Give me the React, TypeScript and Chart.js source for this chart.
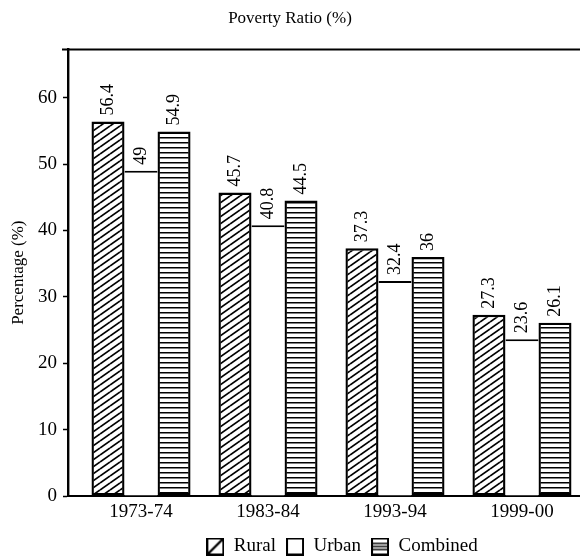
import { useEffect, useRef } from "react";
import { Chart, registerables } from "chart.js";

Chart.register(...registerables);

const categories = ["1973-74", "1983-84", "1993-94", "1999-00"];
const rural = [56.4, 45.7, 37.3, 27.3];
const urban = [49, 40.8, 32.4, 23.6];
const combined = [54.9, 44.5, 36, 26.1];
const seriesNames = ["Rural", "Urban", "Combined"];
const yTicks = [0, 10, 20, 30, 40, 50, 60];

const FONT = "'Liberation Serif', 'DejaVu Serif', serif";

function makeHatch(): CanvasPattern {
  const c = document.createElement("canvas");
  const w = 10;
  const h = 7;
  c.width = w;
  c.height = h;
  const g = c.getContext("2d")!;
  g.fillStyle = "#fff";
  g.fillRect(0, 0, w, h);
  g.strokeStyle = "#000";
  g.lineWidth = 1.7;
  for (const k of [-1, 0, 1]) {
    g.beginPath();
    g.moveTo(0, h + k * h);
    g.lineTo(w, k * h);
    g.stroke();
  }
  return g.createPattern(c, "repeat")!;
}

function makeHLines(): CanvasPattern {
  const c = document.createElement("canvas");
  c.width = 6;
  c.height = 5;
  const g = c.getContext("2d")!;
  g.fillStyle = "#fff";
  g.fillRect(0, 0, 6, 5);
  g.fillStyle = "#000";
  g.fillRect(0, 2, 6, 1.5);
  return g.createPattern(c, "repeat")!;
}

function makeIcon(kind: number): HTMLCanvasElement {
  const c = document.createElement("canvas");
  const s = 18;
  c.width = s;
  c.height = s;
  const g = c.getContext("2d")!;
  g.fillStyle = "#fff";
  g.fillRect(0, 0, s, s);
  g.strokeStyle = "#000";
  g.lineWidth = 2;
  g.strokeRect(1, 1, s - 2, s - 2);
  if (kind === 0) {
    g.lineWidth = 2.4;
    g.beginPath();
    g.moveTo(2, s - 2);
    g.lineTo(s - 2, 2);
    g.stroke();
  } else if (kind === 2) {
    g.lineWidth = 1.5;
    for (const y of [6, 9, 12]) {
      g.beginPath();
      g.moveTo(1, y);
      g.lineTo(s - 1, y);
      g.stroke();
    }
  }
  return c;
}

const topBorder = {
  id: "topBorder",
  afterDraw(chart: any) {
    const { ctx, chartArea } = chart;
    ctx.save();
    ctx.strokeStyle = "#000";
    ctx.lineWidth = 2;
    ctx.beginPath();
    ctx.moveTo(chartArea.left - 6, chartArea.top);
    ctx.lineTo(chartArea.right, chartArea.top);
    ctx.stroke();
    ctx.restore();
  },
};

const legendShift = {
  id: "legendShift",
  afterLayout(chart: any) {
    const lg = chart.legend;
    if (!lg) return;
    lg.left += 52;
    lg.right += 52;
    lg.top += 8;
    lg.bottom += 8;
  },
};

const valueLabels = {
  id: "valueLabels",
  afterDatasetsDraw(chart: any) {
    const ctx = chart.ctx;
    const all = [rural, urban, combined];
    ctx.save();
    ctx.font = `18px ${FONT}`;
    ctx.fillStyle = "#000";
    all.forEach((vals, di) => {
      const meta = chart.getDatasetMeta(di);
      meta.data.forEach((el: any, i: number) => {
        ctx.save();
        ctx.translate(el.x, el.y - 6);
        ctx.rotate(-Math.PI / 2);
        ctx.textAlign = "left";
        ctx.textBaseline = "middle";
        ctx.fillText(String(vals[i]), 0, 0);
        ctx.restore();
      });
    });
    ctx.restore();
  },
};

export default function App() {
  const ref = useRef<HTMLCanvasElement | null>(null);

  useEffect(() => {
    document.body.style.margin = "0";
    const canvas = ref.current;
    if (!canvas) return;
    const hatch = makeHatch();
    const hlines = makeHLines();
    const icons = [makeIcon(0), makeIcon(1), makeIcon(2)];

    const toPts = (vals: number[]) => vals.map((v, i) => ({ x: i, y: v }));

    const chart = new Chart(canvas, {
      type: "bar",
      data: {
        datasets: [
          {
            label: seriesNames[0],
            data: toPts(rural),
            backgroundColor: hatch,
            borderColor: "#000",
            borderWidth: 2.4,
            borderSkipped: false,
          },
          {
            label: seriesNames[1],
            data: toPts(urban),
            backgroundColor: "#fff",
            borderColor: "#000",
            borderWidth: { top: 2, left: 0, right: 0, bottom: 0 },
            borderSkipped: "start",
          },
          {
            label: seriesNames[2],
            data: toPts(combined),
            backgroundColor: hlines,
            borderColor: "#000",
            borderWidth: 2.4,
            borderSkipped: false,
          },
        ] as any,
      },
      options: {
        animation: false,
        responsive: false,
        layout: { padding: 0 },
        plugins: {
          title: {
            display: true,
            text: "Poverty Ratio (%)",
            color: "#000",
            font: { family: FONT, size: 17, weight: "normal" },
            padding: { top: 8, bottom: 21 },
          },
          legend: {
            position: "bottom",
            labels: {
              usePointStyle: true,
              boxWidth: 18,
              boxHeight: 18,
              padding: 10,
              color: "#000",
              font: { family: FONT, size: 19 },
              generateLabels: (ch: any) =>
                seriesNames.map((n, i) => ({
                  text: n,
                  datasetIndex: i,
                  pointStyle: icons[i],
                  fillStyle: "#fff",
                  strokeStyle: "#000",
                  lineWidth: 0,
                  hidden: !ch.isDatasetVisible(i),
                  fontColor: "#000",
                })),
            },
          },
          tooltip: { enabled: false },
        },
        scales: {
          x: {
            type: "linear",
            min: -0.575,
            max: 3.457,
            offset: false,
            afterBuildTicks: (s: any) => {
              s.ticks = categories.map((_, i) => ({ value: i }));
            },
            afterFit: (s: any) => {
              const lh = s.chart.legend ? s.chart.legend.height : 0;
              s.height = 62 - lh;
            },
            ticks: {
              color: "#000",
              font: { family: FONT, size: 19 },
              padding: 5,
              maxRotation: 0,
              callback: (v: any) => categories[Math.round(v)] ?? "",
            },
            grid: { drawOnChartArea: false, drawTicks: false },
            border: { display: true, color: "#000", width: 2 },
          },
          y: {
            min: 0,
            max: 67.27,
            afterBuildTicks: (s: any) => {
              s.ticks = yTicks.map((v) => ({ value: v }));
            },
            afterFit: (s: any) => {
              s.width = 68;
            },
            ticks: {
              color: "#000",
              font: { family: FONT, size: 19 },
              padding: 6,
            },
            grid: {
              drawOnChartArea: false,
              drawTicks: true,
              tickLength: 5,
              color: "#000",
              tickWidth: 1.5,
            },
            border: { display: true, color: "#000", width: 2.4 },
            title: {
              display: true,
              text: "Percentage (%)",
              color: "#000",
              font: { family: FONT, size: 17 },
              padding: { top: 8, bottom: 0 },
            },
          },
        },
        datasets: {
          bar: { categoryPercentage: 0.78, barPercentage: 1 },
        },
      } as any,
      plugins: [topBorder, valueLabels, legendShift],
    });
    return () => chart.destroy();
  }, []);

  return (
    <div style={{ width: 580, height: 558 }}>
      <canvas ref={ref} width={580} height={558} />
    </div>
  );
}
